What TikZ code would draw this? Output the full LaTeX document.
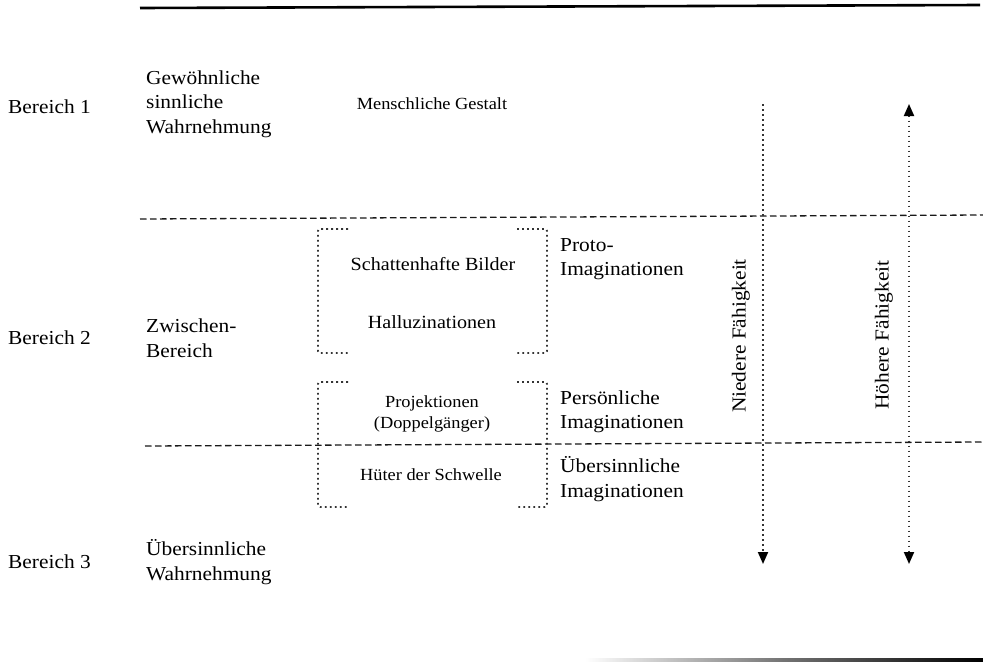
\documentclass[tikz,border=0pt]{standalone}
\usepackage{fontspec}
\setmainfont[FakeStretch=1.08]{Liberation Serif}
\usetikzlibrary{arrows.meta}
\tikzset{
  big/.style={font=\fontsize{19.8}{24.5}\selectfont, align=left, inner sep=0pt},
  mid/.style={font=\fontsize{18.6}{24}\selectfont, align=center, inner sep=0pt},
  small/.style={font=\fontsize{17}{20}\selectfont, align=center, inner sep=0pt},
  sep/.style={draw=black!90, line width=1.3pt, dash pattern=on 6.5pt off 3.5pt},
  dotbox/.style={draw=black!80, line width=1.9pt, dash pattern=on 1.8pt off 3.2pt, rounded corners=2pt},
  dotarrow/.style={draw=black!80, line width=1.9pt, dash pattern=on 1.8pt off 3.2pt},
  tipa/.style={-{Triangle[width=10pt,length=12pt,black]}},
  tipb/.style={{Triangle[width=10pt,length=12pt,black]}-{Triangle[width=10pt,length=12pt,black]}},
}
\begin{document}
\begin{tikzpicture}[x=1pt,y=-1pt]
\useasboundingbox (0,0) rectangle (983,662);

% top and bottom rules
\coordinate (tl) at (140,8);
\coordinate (tr) at (980,5);
\draw[line width=2.6pt] (tl) -- (tr);
\shade[left color=white, right color=black, middle color=black!55] (585,658.5) rectangle (983,661);

% separators
\coordinate (s1l) at (140,219);
\coordinate (s1r) at (983,215);
\coordinate (s2l) at (145,446);
\coordinate (s2r) at (983,442);
\draw[sep] (s1l) -- (s1r);
\draw[sep] (s2l) -- (s2r);

% left labels
\node[big, anchor=west] (b1) at (8,107) {Bereich 1};
\node[big, anchor=west] (b2) at (8,338) {Bereich 2};
\node[big, anchor=west] (b3) at (8,562) {Bereich 3};

\node[big, anchor=west] (w1) at (146,104) {Gewöhnliche\\sinnliche\\Wahrnehmung};
\node[big, anchor=west] (w2) at (146,338) {Zwischen-\\Bereich};
\node[big, anchor=west] (w3) at (146,562) {Übersinnliche\\Wahrnehmung};

\node[small] (mg) at (432,104) {Menschliche Gestalt};

% dotted bracket boxes
\draw[dotbox] (348,229) -- (318,229) -- (318,353) -- (348,353);
\draw[dotbox] (517,229) -- (547,229) -- (547,353) -- (517,353);
\draw[dotbox] (348,382) -- (318,382) -- (318,507) -- (348,507);
\draw[dotbox] (517,382) -- (547,382) -- (547,507) -- (517,507);

\node[mid] (sb) at (433,264) {Schattenhafte Bilder};
\node[mid] (ha) at (432,322) {Halluzinationen};
\node[small, font=\fontsize{17}{20.5}\selectfont] (pr) at (432,414) {Projektionen\\(Doppelgänger)};
\node[small] (hs) at (431,475) {Hüter der Schwelle};

% right column
\node[big, anchor=west] (pi) at (560,259) {Proto-\\Imaginationen};
\node[big, anchor=west] (ps) at (560,412) {Persönliche\\Imaginationen};
\node[big, anchor=west] (ui) at (560,479) {Übersinnliche\\Imaginationen};

% arrows
\coordinate (a1t) at (763,104);
\coordinate (a1b) at (763,564);
\coordinate (a2t) at (909,104);
\coordinate (a2b) at (909,564);
\draw[dotarrow, tipa] (a1t) -- (a1b);
\draw[dotarrow, tipb] (a2t) -- (a2b);

\node[big, rotate=90] (nf) at (741,336) {Niedere Fähigkeit};
\node[big, rotate=90] (hf) at (884,335) {Höhere Fähigkeit};
\end{tikzpicture}
\end{document}
